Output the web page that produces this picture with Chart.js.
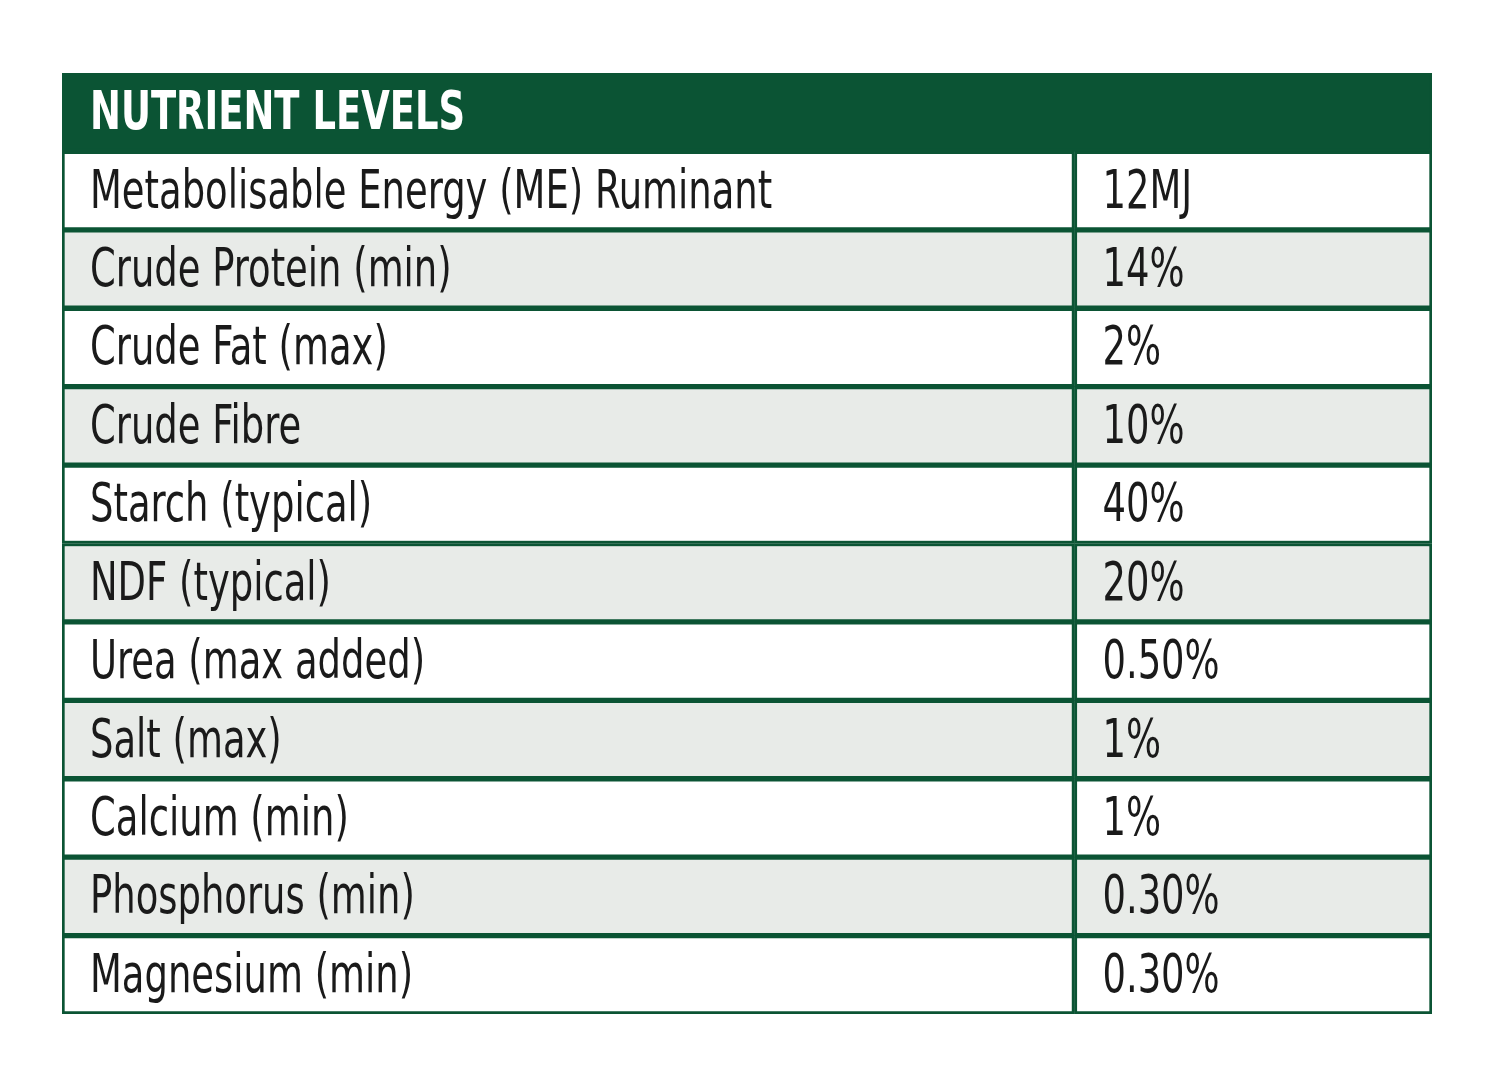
<!DOCTYPE html>
<html><head><meta charset="utf-8">
<script src="https://cdn.jsdelivr.net/npm/chart.js@4"></script>
<style>html,body{margin:0;padding:0;background:#fff}#w{width:1500px;height:1076px}</style>
</head><body><div id="w"><canvas id="c"></canvas></div>
<script>
const title = "NUTRIENT LEVELS";
const nutrients = ["Metabolisable Energy (ME) Ruminant","Crude Protein (min)","Crude Fat (max)","Crude Fibre","Starch (typical)","NDF (typical)","Urea (max added)","Salt (max)","Calcium (min)","Phosphorus (min)","Magnesium (min)"];
const levels = ["12MJ","14%","2%","10%","40%","20%","0.50%","1%","1%","0.30%","0.30%"];
const split = 0.739;

const rows = [title, ...nutrients];
const green = "#0b5434", grey = "#e8ebe8";
const fills = rows.map((r,i)=> i===0 ? green : (i%2===0 ? grey : "#ffffff"));
const colA = rows.map((r,i)=> i===0 ? [0,1] : [0,split]);
const colB = rows.map((r,i)=> i===0 ? null : [split,1]);
const texts = [rows, ["", ...levels]];

const textPlugin = {
  id:'txt',
  afterDatasetsDraw(chart){
    const ctx = chart.ctx;
    [0,1].forEach(d=>{
      const meta = chart.getDatasetMeta(d);
      meta.data.forEach((el,i)=>{
        const t = texts[d][i]; if(!t) return;
        const left = Math.min(el.x, el.base);
        ctx.save();
        ctx.textBaseline='middle';
        if(i===0){ctx.fillStyle='#fff';ctx.font='bold 54px "Liberation Sans Narrow","DejaVu Sans Condensed",sans-serif';}
        else {ctx.fillStyle='#1a1a1a';ctx.font='54px "Liberation Sans Narrow","DejaVu Sans Condensed",sans-serif';}
        ctx.translate(left+28, el.y+3);
        ctx.scale(0.76,1);
        ctx.fillText(t, 0, 0);
        ctx.restore();
      });
    });
  }
};

new Chart(document.getElementById('c'),{
  type:'bar',
  data:{labels:rows,datasets:[
    {data:colA,backgroundColor:fills,borderColor:green,borderWidth:3,borderSkipped:false,grouped:false,barPercentage:1,categoryPercentage:1},
    {data:colB,backgroundColor:fills,borderColor:green,borderWidth:3,borderSkipped:false,grouped:false,barPercentage:1,categoryPercentage:1}
  ]},
  options:{
    indexAxis:'y',responsive:true,maintainAspectRatio:false,animation:false,
    layout:{padding:{left:62,right:68,top:73,bottom:62}},
    plugins:{legend:{display:false},tooltip:{enabled:false}},
    scales:{x:{type:'linear',min:0,max:1,display:false},y:{display:false,offset:true}}
  },
  plugins:[textPlugin]
});
</script></body></html>
